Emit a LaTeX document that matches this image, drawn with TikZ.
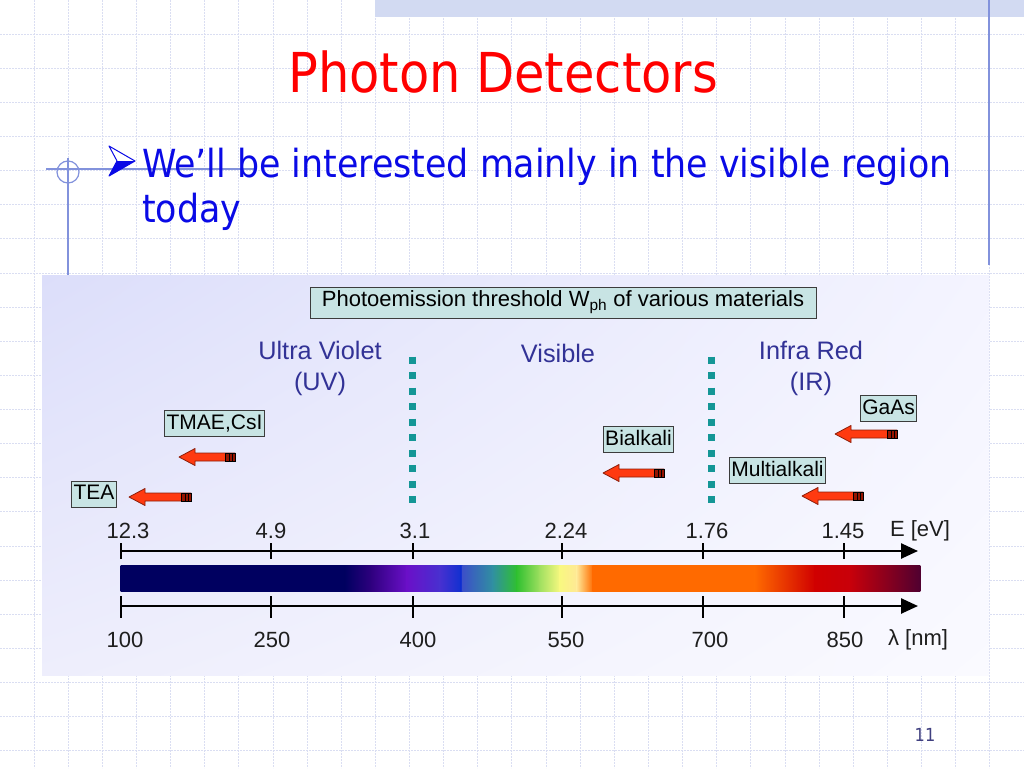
\documentclass[tikz,border=0pt]{standalone}
\usepackage{fontspec}
\setmainfont{Liberation Sans}
\newfontfamily\tahoma{DejaVu Sans Condensed}
\usepackage{xcolor}
\usepackage{tikz}
\usetikzlibrary{arrows.meta,positioning,calc,shadings}

\definecolor{gridcol}{RGB}{218,222,242}
\definecolor{bandcol}{RGB}{210,218,242}
\definecolor{decocol}{RGB}{130,146,220}
\definecolor{bulblue}{RGB}{10,10,230}
\definecolor{boxfill}{RGB}{200,228,228}
\definecolor{boxline}{RGB}{60,60,60}
\definecolor{catblue}{RGB}{50,50,150}
\definecolor{septeal}{RGB}{20,150,150}
\definecolor{arrred}{RGB}{255,58,16}
\definecolor{arrline}{RGB}{140,30,10}
\definecolor{arrtail}{RGB}{150,20,0}
\definecolor{numgray}{RGB}{30,30,30}
\definecolor{pagecol}{RGB}{64,64,128}
\definecolor{panUL}{RGB}{220,222,250}
\definecolor{panUR}{RGB}{244,244,255}
\definecolor{panLL}{RGB}{238,238,252}
\definecolor{panLR}{RGB}{250,250,255}
% spectrum stops
\definecolor{spA}{RGB}{0,0,96}
\definecolor{spB}{RGB}{48,0,128}
\definecolor{spC}{RGB}{106,16,200}
\definecolor{spD}{RGB}{72,48,208}
\definecolor{spE}{RGB}{16,48,208}
\definecolor{spF}{RGB}{60,80,200}
\definecolor{spG}{RGB}{48,144,160}
\definecolor{spH}{RGB}{48,192,48}
\definecolor{spI}{RGB}{160,224,96}
\definecolor{spJ}{RGB}{248,248,128}
\definecolor{spK}{RGB}{255,232,150}
\definecolor{spL}{RGB}{255,106,0}
\definecolor{spM}{RGB}{208,0,0}
\definecolor{spN}{RGB}{200,0,10}
\definecolor{spO}{RGB}{80,0,48}

\begin{document}
\begin{tikzpicture}[x=1pt, y=-1pt,
    gridln/.style={gridcol, line width=1pt, dash pattern=on 2pt off 1pt},
    deco/.style={decocol, line width=1.2pt},
    hdr/.style={rectangle, draw=boxline, fill=boxfill, line width=0.8pt,
                minimum width=506pt, minimum height=31pt, inner sep=0pt,
                font=\fontsize{22}{26}\selectfont},
    mat/.style={rectangle, draw=boxline, fill=boxfill, line width=0.8pt,
                inner xsep=2pt, inner ysep=3.5pt, text height=15pt, text depth=4pt,
                font=\fontsize{21}{24}\selectfont},
    cat/.style={text=catblue, align=center, font=\fontsize{25.3}{31}\selectfont},
    sep/.style={septeal, line width=7pt, dash pattern=on 7pt off 8.55pt},
    redarr/.style={fill=arrred, draw=arrline, line width=0.8pt, line join=round},
    axis/.style={black, line width=2.5pt, -{Triangle[length=17pt,width=15pt]}},
    tick/.style={black, line width=1.3pt},
    num/.style={text=numgray, font=\fontsize{22}{25}\selectfont},
  ]
  \useasboundingbox (0,0) rectangle (1024,768);
  \fill[white] (0,0) rectangle (1024,768);

  % Slide grid
  \foreach \i in {1,...,29} \draw[gridln] (\i*34.13,0) -- (\i*34.13,768);
  \foreach \j in {1,...,22} \draw[gridln] (0,\j*34.13) -- (1024,\j*34.13);

  % Slide frame decorations
  \fill[bandcol] (375,0) rectangle (1024,17);
  \draw[deco] (989,0) -- (989,265);
  \draw[deco] (46,169) -- (254,169);
  \draw[deco] (68,158) -- (68,277);
  \draw[deco] (68,172) circle (11);

  % Title
  \node[text=red, font=\tahoma\fontsize{55}{60}\selectfont, anchor=base] (title) at (503,92) {Photon Detectors};

  % Bullet
  \draw[bulblue, line width=1pt, line join=round] (109,146) -- (135,161) -- (109,176) -- (117,161) -- cycle;
  \fill[bulblue] (117,161) -- (135,161) -- (109,176) -- cycle;
  \node[text=bulblue, font=\tahoma\fontsize{38.7}{45}\selectfont, anchor=base west, inner sep=0pt] (bul1) at (142,177) {We’ll be interested mainly in the visible region};
  \node[text=bulblue, font=\tahoma\fontsize{38.7}{45}\selectfont, anchor=base west, inner sep=0pt] (bul2) at (142,222) {today};

  % Figure panel
  \shade[upper left=panUL, upper right=panUR, lower left=panLL, lower right=panLR]
        (42,275) rectangle (989,675);

  % Header
  \node[hdr] (head) at (563,302.5) {Photoemission threshold W\textsubscript{ph} of various materials};

  % Regions
  \node[cat] (uv) at (320,368) {Ultra Violet\\(UV)};
  \node[cat] (vis) at (558,353) {Visible};
  \node[cat] (ir) at (811,368) {Infra Red\\(IR)};

  % Region borders
  \coordinate (s1a) at (412,356.5);
  \coordinate (s1b) at (412,504);
  \coordinate (s2a) at (711,356.5);
  \coordinate (s2b) at (711,504);
  \draw[sep] (s1a) -- (s1b);
  \draw[sep] (s2a) -- (s2b);

  % Materials
  \node[mat] (tea) at (94,494) {TEA};
  \node[mat] (tmae) at (214.5,423.5) {TMAE,CsI};
  \node[mat] (bialk) at (638.5,439.5) {Bialkali};
  \node[mat] (multi) at (777.5,470.5) {Multialkali};
  \node[mat] (gaas) at (888.5,408.5) {GaAs};

  % Threshold arrows
  \foreach \xt/\xe/\y in {129/191/497, 179/235/457, 603/664/473, 835/897/434, 802/863/496} {
    \filldraw[redarr] (\xt,\y) -- (\xt+16,\y-8.5) -- (\xt+16,\y-4) -- (\xe,\y-4)
      -- (\xe,\y+4) -- (\xt+16,\y+4) -- (\xt+16,\y+8.5) -- cycle;
    \fill[arrtail] (\xe-10,\y-4) rectangle (\xe,\y+4);
    \draw[black, line width=0.8pt] (\xe-10,\y-4) rectangle (\xe,\y+4);
    \draw[black, line width=0.8pt] (\xe-6,\y-4) -- (\xe-6,\y+4) (\xe-3,\y-4) -- (\xe-3,\y+4);
  }

  % Energy axis
  \coordinate (e0) at (121,551);
  \coordinate (e1) at (918,551);
  \draw[axis] (e0) -- (e1);
  \foreach \x/\lx/\lab [count=\i] in {121/128/12.3, 271/271/4.9, 413/415/3.1, 562/566/2.24, 703/707/1.76, 844/843/1.45} {
    \draw[tick] (\x,543) -- (\x,559);
    \node[num] (en\i) at (\lx,531) {\lab};
  }
  \node[num] (eunit) at (920,531) {E [eV]};

  % Spectrum
  \foreach \xa/\ca/\xb/\cb in {121/spA/345/spA, 345/spA/372/spB, 372/spB/407/spC, 407/spC/440/spD,
      440/spD/461/spE, 461/spE/463/spF, 463/spF/493/spG, 493/spG/517/spH, 517/spH/540/spI,
      540/spI/560/spJ, 560/spJ/577/spK, 577/spK/593/spL, 593/spL/755/spL, 755/spL/815/spM,
      815/spM/850/spN, 850/spN/920/spO}
    \shade[left color=\ca, right color=\cb] (\xa-0.4,565) rectangle (\xb+0.4,591);

  % Wavelength axis
  \coordinate (w0) at (121,606);
  \coordinate (w1) at (918,606);
  \draw[axis] (w0) -- (w1);
  \foreach \x/\lx/\lab [count=\i] in {121/125/100, 271/272/250, 413/418/400, 562/566/550, 703/710/700, 844/845/850} {
    \draw[tick] (\x,596) -- (\x,618);
    \node[num] (wl\i) at (\lx,640) {\lab};
  }
  \node[num] (wunit) at (918,640) {λ [nm]};

  % Page number
  \node[text=pagecol, font=\tahoma\fontsize{18}{20}\selectfont] (page) at (925,735) {11};

\end{tikzpicture}
\end{document}
